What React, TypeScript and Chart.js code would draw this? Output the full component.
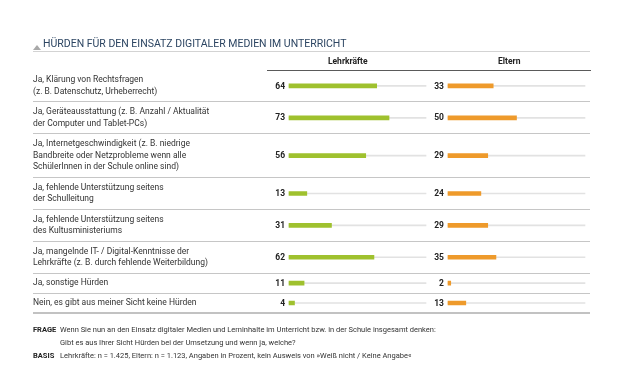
import React, { useEffect, useRef } from 'react';
import { Chart, registerables } from 'chart.js';

Chart.register(...registerables);

// ---------- data ----------
const categories: string[][] = [
  ['Ja, Klärung von Rechtsfragen', '(z. B. Datenschutz, Urheberrecht)'],
  ['Ja, Geräteausstattung (z. B. Anzahl / Aktualität', 'der Computer und Tablet-PCs)'],
  ['Ja, Internetgeschwindigkeit (z. B. niedrige', 'Bandbreite oder Netzprobleme wenn alle', 'SchülerInnen in der Schule online sind)'],
  ['Ja, fehlende Unterstützung seitens', 'der Schulleitung'],
  ['Ja, fehlende Unterstützung seitens', 'des Kultusministeriums'],
  ['Ja, mangelnde IT- / Digital-Kenntnisse der', 'Lehrkräfte (z. B. durch fehlende Weiterbildung)'],
  ['Ja, sonstige Hürden'],
  ['Nein, es gibt aus meiner Sicht keine Hürden'],
];
const lehrkraefte: number[] = [64, 73, 56, 13, 31, 62, 11, 4];
const eltern: number[] = [33, 50, 29, 24, 29, 35, 2, 13];
const seriesNames: string[] = ['Lehrkräfte', 'Eltern'];
const fullScale = 100;

const chartTitle = 'HÜRDEN FÜR DEN EINSATZ DIGITALER MEDIEN IM UNTERRICHT';
const frageLabel = 'FRAGE';
const frageText = [
  'Wenn Sie nun an den Einsatz digitaler Medien und Lerninhalte im Unterricht bzw. in der Schule insgesamt denken:',
  'Gibt es aus Ihrer Sicht Hürden bei der Umsetzung und wenn ja, welche?',
];
const basisLabel = 'BASIS';
const basisText = 'Lehrkräfte: n = 1.425, Eltern: n = 1.123, Angaben in Prozent, kein Ausweis von »Weiß nicht / Keine Angabe«';

// ---------- styling / layout ----------
const FONT = "Roboto, sans-serif";
const GREEN = '#9fc12e';
const ORANGE = '#ee9a2b';
const TRACK = '#e2e2e2';
const TEXT = '#333333';
const ROW_BASE = 8;
const ROW_PER_LINE = 12;

// row geometry in y-scale units, derived from the label line counts
const rowHeights = categories.map((c) => ROW_BASE + ROW_PER_LINE * c.length);
const boundaries: number[] = [0];
rowHeights.forEach((h, i) => boundaries.push(boundaries[i] + h));
const centers = rowHeights.map((h, i) => boundaries[i] + h / 2);
const total = boundaries[boundaries.length - 1];

const tickValues: number[] = [];
centers.forEach((c, i) => {
  tickValues.push(boundaries[i]);
  tickValues.push(c);
});
tickValues.push(total);
const lastTick = tickValues.length - 1;

const valueLabels = {
  id: 'valueLabels',
  afterDatasetsDraw(chart: any) {
    const ctx = chart.ctx;
    ctx.save();
    ctx.font = `bold 8.5px ${FONT}`;
    ctx.fillStyle = '#222';
    ctx.textAlign = 'right';
    ctx.textBaseline = 'middle';
    chart.data.datasets.forEach((ds: any, di: number) => {
      if (!ds.showValue) return;
      const meta = chart.getDatasetMeta(di);
      meta.data.forEach((el: any, i: number) => {
        const { base, y } = el.getProps(['base', 'y'], true);
        ctx.fillText(String(ds.data[i].x), base - 4, y + 0.5);
      });
    });
    ctx.restore();
  },
};

export default function App() {
  const ref = useRef<HTMLCanvasElement | null>(null);

  useEffect(() => {
    if (!ref.current) return;
    const toPts = (arr: number[]) => arr.map((v, i) => ({ x: v, y: centers[i] }));
    const chart = new Chart(ref.current, {
      type: 'bar',
      data: {
        datasets: [
          {
            label: seriesNames[0],
            data: toPts(lehrkraefte),
            xAxisID: 'x1',
            yAxisID: 'y',
            backgroundColor: GREEN,
            barThickness: 4,
            grouped: false,
            order: 1,
            showValue: true,
          } as any,
          {
            label: seriesNames[1],
            data: toPts(eltern),
            xAxisID: 'x2',
            yAxisID: 'y',
            backgroundColor: ORANGE,
            barThickness: 4,
            grouped: false,
            order: 1,
            showValue: true,
          } as any,
          {
            label: 'track1',
            data: toPts(lehrkraefte.map(() => fullScale)),
            xAxisID: 'x1',
            yAxisID: 'y',
            backgroundColor: TRACK,
            barThickness: 1,
            grouped: false,
            order: 2,
          } as any,
          {
            label: 'track2',
            data: toPts(eltern.map(() => fullScale)),
            xAxisID: 'x2',
            yAxisID: 'y',
            backgroundColor: TRACK,
            barThickness: 1,
            grouped: false,
            order: 2,
          } as any,
        ],
      },
      options: {
        indexAxis: 'y',
        animation: false,
        responsive: false,
        devicePixelRatio: 1,
        layout: { padding: { left: 33, right: 30, top: 50, bottom: 75 } },
        plugins: {
          legend: { display: false },
          tooltip: { enabled: false },
          title: { display: false },
        },
        scales: {
          y: {
            type: 'linear',
            position: 'left',
            reverse: true,
            offset: false,
            min: 0,
            max: total,
            afterBuildTicks: (scale: any) => {
              scale.ticks = tickValues.map((v) => ({ value: v }));
            },
            afterFit: (scale: any) => {
              scale.width = 234;
            },
            ticks: {
              autoSkip: false,
              crossAlign: 'far',
              padding: 0,
              color: TEXT,
              font: { family: FONT, size: 8.5, lineHeight: 1.35 },
              callback: (_v: any, i: number) => (i % 2 === 1 ? categories[(i - 1) / 2] : ''),
            },
            grid: {
              offset: false,
              drawOnChartArea: true,
              drawTicks: true,
              tickLength: 234,
              color: (c: any) =>
                c.index === 0 || c.index % 2 === 1 ? 'rgba(0,0,0,0)' : c.index === lastTick ? '#c2c2c2' : '#c6c6c6',
              lineWidth: (c: any) => (c.index === lastTick ? 2 : 1),
            },
            border: { display: false },
          },
          x1: {
            type: 'linear',
            axis: 'x',
            position: 'top',
            stack: 'cols',
            stackWeight: 1,
            weight: 1,
            min: -16.06,
            max: 101.82,
            afterFit: (scale: any) => {
              scale.height = 20;
            },
            ticks: { display: false },
            grid: { display: true, drawOnChartArea: false, drawTicks: false, color: 'rgba(0,0,0,0)' },
            border: { display: true, color: '#5a5a5a', width: 1 },
            title: {
              display: true,
              text: seriesNames[0],
              color: '#222',
              font: { family: FONT, size: 8.5, weight: 'bold' },
              padding: { top: 7, bottom: 0 },
            },
          },
          x2: {
            type: 'linear',
            axis: 'x',
            position: 'top',
            stack: 'cols',
            stackWeight: 1,
            weight: 0,
            min: -14.23,
            max: 103.65,
            afterFit: (scale: any) => {
              scale.height = 20;
            },
            ticks: { display: false },
            grid: { display: true, drawOnChartArea: false, drawTicks: false, color: 'rgba(0,0,0,0)' },
            border: { display: true, color: '#5a5a5a', width: 1 },
            title: {
              display: true,
              text: seriesNames[1],
              color: '#222',
              font: { family: FONT, size: 8.5, weight: 'bold' },
              padding: { top: 7, bottom: 0 },
            },
          },
        },
      } as any,
      plugins: [valueLabels],
    });
    return () => chart.destroy();
  }, []);

  const abs = (s: React.CSSProperties): React.CSSProperties => ({ position: 'absolute', ...s });

  return (
    <div style={{ position: 'fixed', left: 0, top: 0, width: 620, height: 388, background: '#fff', fontFamily: FONT, overflow: 'hidden' }}>
      <canvas ref={ref} width={620} height={388} style={abs({ left: 0, top: 0, width: 620, height: 388 })} />
      <div
        style={abs({
          left: 33,
          top: 45,
          width: 0,
          height: 0,
          borderLeft: '4px solid transparent',
          borderRight: '4px solid transparent',
          borderBottom: '5px solid #a9a9a9',
        })}
      />
      <div style={abs({ left: 43, top: 37, fontSize: 10.5, lineHeight: '13px', color: '#2c4562', whiteSpace: 'nowrap' })}>
        {chartTitle}
      </div>
      <div style={abs({ left: 33, top: 51, width: 557, height: 1, background: '#d3d3d3' })} />
      <div style={abs({ left: 33, top: 323, fontSize: 7.5, lineHeight: '13px', color: TEXT, whiteSpace: 'nowrap' })}>
        <div>
          <span style={{ display: 'inline-block', width: 27, fontWeight: 'bold', color: '#222' }}>{frageLabel}</span>
          {frageText[0]}
        </div>
        <div style={{ paddingLeft: 27 }}>{frageText[1]}</div>
        <div>
          <span style={{ display: 'inline-block', width: 27, fontWeight: 'bold', color: '#222' }}>{basisLabel}</span>
          {basisText}
        </div>
      </div>
    </div>
  );
}
